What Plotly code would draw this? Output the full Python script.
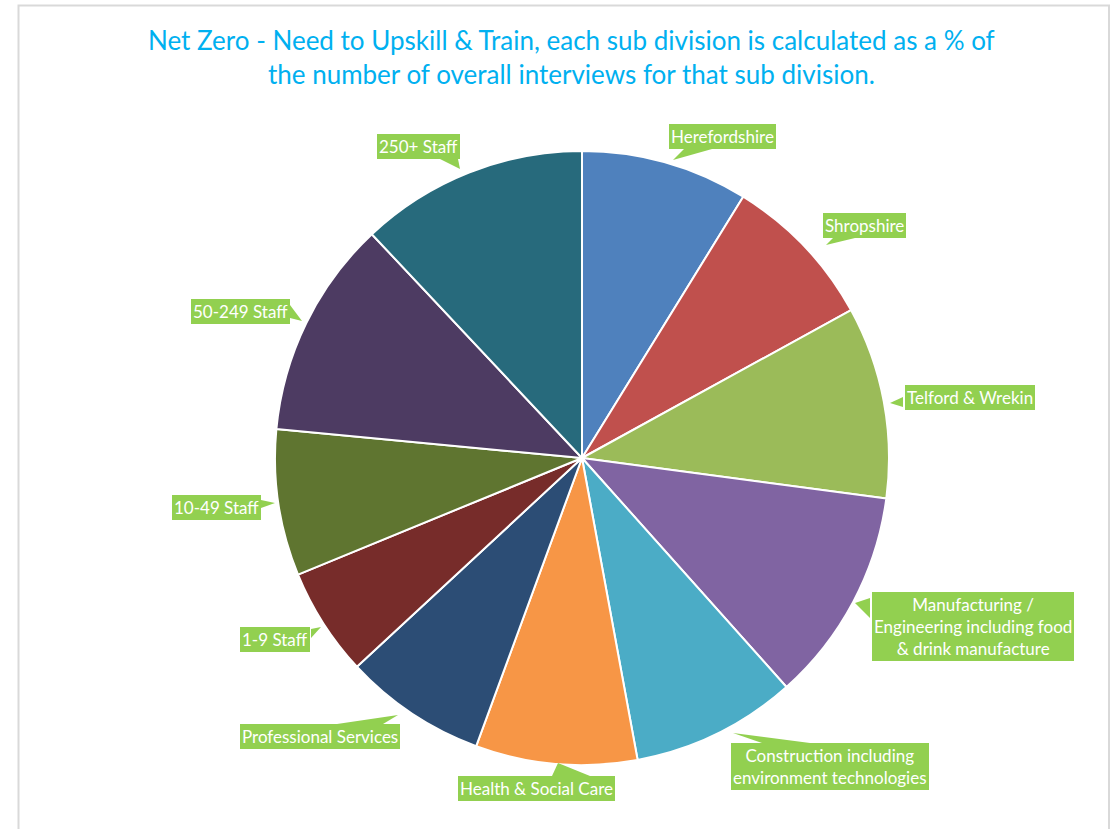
import plotly.graph_objects as go

# ---- data (share of pie, %) ----
categories = ["Herefordshire", "Shropshire", "Telford & Wrekin",
              "Manufacturing / Engineering including food & drink manufacture",
              "Construction including environment technologies",
              "Health & Social Care", "Professional Services",
              "1-9 Staff", "10-49 Staff", "50-249 Staff", "250+ Staff"]
values = [8.8, 8.2, 10.1, 11.3, 8.7, 8.5, 7.5, 5.7, 7.7, 11.5, 12.0]
label_texts = ["Herefordshire", "Shropshire", "Telford &amp; Wrekin",
               "Manufacturing /<br>Engineering including food<br>&amp; drink manufacture",
               "Construction including<br>environment technologies",
               "Health &amp; Social Care", "Professional Services",
               "1-9 Staff", "10-49 Staff", "50-249 Staff", "250+ Staff"]
colors = ["#4F81BD", "#C0504D", "#9BBB59", "#8064A2", "#4BACC6", "#F79646",
          "#2C4D75", "#772C2A", "#5F7530", "#4D3B62", "#276A7C"]

W, H = 1110, 829
def px(x): return x / W
def py(y): return 1 - y / H

# label box centres (pixels) and callout pointers (tip, base1, base2)
label_pos = [(722, 136), (864, 225), (970, 397), (973, 626), (830, 766),
             (536, 788), (320, 736), (275, 639), (216, 507), (240, 311), (418, 146)]
pointers = [
    ((673, 160), (684, 149), (712, 149)),
    ((826, 245), (833, 238), (855, 238)),
    ((890, 403), (903, 397), (903, 407)),
    ((855, 603), (870, 598), (870, 618)),
    ((733, 733), (762, 743), (810, 743)),
    ((558, 763), (552, 776), (590, 776)),
    ((398, 715), (337, 724), (383, 724)),
    ((321, 627), (311, 629), (311, 638)),
    ((275, 503), (261, 500), (261, 508)),
    ((302, 321), (290, 305), (290, 318)),
    ((460, 169), (440, 159), (458, 159)),
]

LABEL_GREEN = "#92D050"
FONT = "Lato, 'Open Sans', sans-serif"

fig = go.Figure(go.Pie(
    labels=categories, values=values, sort=False, direction="clockwise",
    rotation=0, marker=dict(colors=colors, line=dict(color="white", width=2)),
    textinfo="none", hoverinfo="label+percent",
    domain=dict(x=[px(275), px(889)], y=[py(765), py(151)]),
    showlegend=False,
))

shapes = [dict(type="rect", xref="paper", yref="paper",
               x0=px(18.5), x1=px(1109), y0=-0.05, y1=py(5.5),
               line=dict(color="#D9D9D9", width=2), fillcolor="rgba(0,0,0,0)")]
for tip, b1, b2 in pointers:
    path = "M {} {} L {} {} L {} {} Z".format(px(tip[0]), py(tip[1]),
                                              px(b1[0]), py(b1[1]),
                                              px(b2[0]), py(b2[1]))
    shapes.append(dict(type="path", xref="paper", yref="paper", path=path,
                       fillcolor=LABEL_GREEN, line=dict(width=0)))

annotations = [dict(
    text="Net Zero - Need to Upskill &amp; Train, each sub division is calculated as a % of<br>"
         "the number of overall interviews for that sub division.",
    x=px(571), y=py(57), xref="paper", yref="paper", showarrow=False,
    xanchor="center", yanchor="middle", align="center",
    font=dict(family=FONT, size=26, color="#00B0F0"))]
for txt, (cx, cy) in zip(label_texts, label_pos):
    annotations.append(dict(
        text=txt, x=px(cx), y=py(cy), xref="paper", yref="paper",
        showarrow=False, xanchor="center", yanchor="middle", align="center",
        bgcolor=LABEL_GREEN, borderpad=2, borderwidth=0,
        font=dict(family=FONT, size=17, color="white")))

fig.update_layout(
    width=W, height=H, margin=dict(l=0, r=0, t=0, b=0),
    paper_bgcolor="white", plot_bgcolor="white",
    shapes=shapes, annotations=annotations,
)

fig.write_html("out.html", config={"displayModeBar": False},
               post_script="document.body.style.margin='0';document.body.style.overflow='hidden';")
